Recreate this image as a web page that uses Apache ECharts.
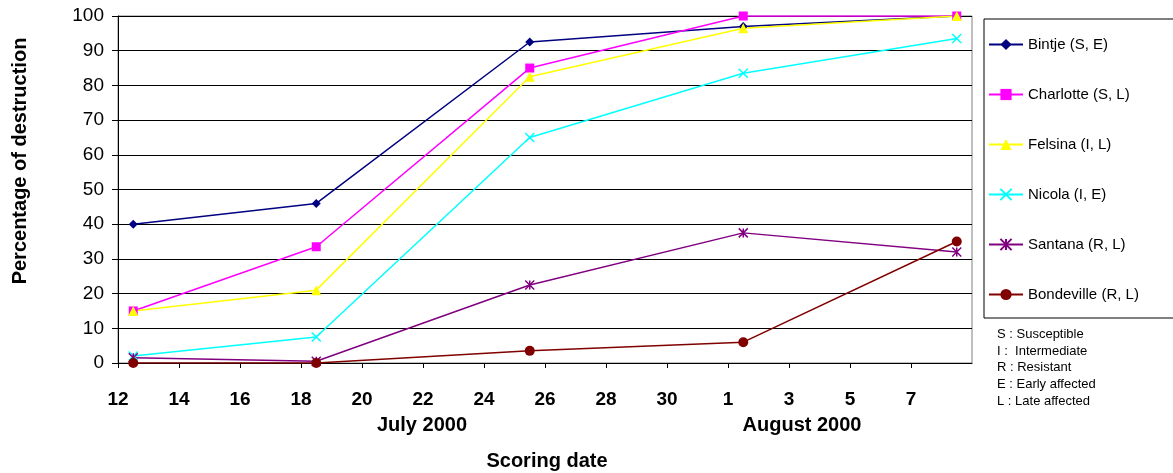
<!DOCTYPE html>
<html lang="en">

<head>
	<meta charset="UTF-8">
	<title>Percentage of destruction by scoring date</title>
	<script src="https://cdn.jsdelivr.net/npm/echarts@6/dist/echarts.min.js"></script>
	<style>
		html, body { margin: 0; padding: 0; background: #fff; }
	</style>
</head>

<body>
	<div id="main" style="width: 1173px;height:473px;"></div>

	<script>
		// scoring dates, counted in days from 1 July 2000 (32 = 1 August)
		var scoringDays = [12, 18, 25, 32, 39];

		var varieties = ['Bintje (S, E)', 'Charlotte (S, L)', 'Felsina (I, L)', 'Nicola (I, E)', 'Santana (R, L)', 'Bondeville (R, L)'];
		var bintje = [40, 46, 92.5, 97, 100];
		var charlotte = [15, 33.5, 85, 100, 100];
		var felsina = [15, 21, 82.5, 96.5, 100];
		var nicola = [2, 7.5, 65, 83.5, 93.5];
		var santana = [1.5, 0.5, 22.5, 37.5, 32];
		var bondeville = [0, 0, 3.5, 6, 35];

		var notes = ['S : Susceptible', 'I :  Intermediate', 'R : Resistant', 'E : Early affected', 'L : Late affected'];

		var FONT = '"Liberation Sans", Arial, sans-serif';

		// each date is drawn in the middle of its day
		function pairs(values) {
			return values.map(function (v, i) { return [scoringDays[i] + 0.5, v]; });
		}

		var styles = [
			{ color: '#000080', symbol: 'diamond', size: 9 },
			{ color: '#FF00FF', symbol: 'rect', size: 9 },
			{ color: '#FFFF00', symbol: 'triangle', size: 10 },
			{ color: '#00FFFF', symbol: 'path://M0,0L10,10M10,0L0,10', size: 9, stroke: true },
			{ color: '#800080', symbol: 'path://M0,0L10,10M10,0L0,10M5,0L5,10', size: 9, stroke: true },
			{ color: '#800000', symbol: 'circle', size: 10 }
		];
		var seriesValues = [bintje, charlotte, felsina, nicola, santana, bondeville];

		var chart = echarts.init(document.getElementById('main'));

		var option = {
			animation: false,
			backgroundColor: '#fff',
			textStyle: { fontFamily: FONT },
			grid: {
				left: 118, right: 201, top: 16, bottom: 110,
				show: true, borderColor: '#808080', borderWidth: 1, backgroundColor: '#fff'
			},
			xAxis: {
				type: 'value',
				min: 12, max: 40, interval: 2,
				axisLine: { lineStyle: { color: '#000', width: 1 } },
				axisTick: { show: true, length: 5, lineStyle: { color: '#000' } },
				splitLine: { show: false },
				axisLabel: {
					showMaxLabel: false,
					margin: 27,
					color: '#000',
					fontSize: 19,
					fontWeight: 'bold',
					fontFamily: FONT,
					formatter: function (v) { return v > 31 ? String(v - 31) : String(v); }
				}
			},
			yAxis: {
				type: 'value',
				min: 0, max: 100, interval: 10,
				axisLine: { show: true, lineStyle: { color: '#000', width: 1 } },
				axisTick: { show: true, length: 6, lineStyle: { color: '#000' } },
				splitLine: { show: true, lineStyle: { color: '#000', width: 1 } },
				axisLabel: { margin: 14, padding: [4, 0, 0, 0], color: '#000', fontSize: 19, fontFamily: FONT }
			},
			legend: {
				orient: 'vertical',
				left: 984, top: 19,
				padding: [18, 50, 16, 4],
				itemGap: 35,
				itemWidth: 34,
				itemHeight: 14,
				borderColor: '#000',
				borderWidth: 1,
				backgroundColor: '#fff',
				textStyle: { fontSize: 15, color: '#000', fontFamily: FONT },
				data: varieties
			},
			graphic: [
				{
					type: 'text', x: 20, y: 161, rotation: Math.PI / 2,
					style: { text: 'Percentage of destruction', font: 'bold 20px ' + FONT, fill: '#000', align: 'center', verticalAlign: 'middle' }
				},
				{
					type: 'text', x: 422, y: 425,
					style: { text: 'July 2000', font: 'bold 20px ' + FONT, fill: '#000', align: 'center', verticalAlign: 'middle' }
				},
				{
					type: 'text', x: 802, y: 425,
					style: { text: 'August 2000', font: 'bold 20px ' + FONT, fill: '#000', align: 'center', verticalAlign: 'middle' }
				},
				{
					type: 'text', x: 547, y: 461,
					style: { text: 'Scoring date', font: 'bold 20px ' + FONT, fill: '#000', align: 'center', verticalAlign: 'middle' }
				},
				{
					type: 'text', x: 997, y: 326,
					style: { text: notes.join('\n'), font: '13px ' + FONT, fill: '#000', lineHeight: 16.7 }
				}
			],
			series: seriesValues.map(function (vals, i) {
				var s = styles[i];
				return {
					name: varieties[i],
					type: 'line',
					data: pairs(vals),
					symbol: s.symbol,
					symbolSize: s.size,
					showAllSymbol: true,
					lineStyle: { color: s.color, width: 1.5 },
					itemStyle: s.stroke
						? { color: s.color, borderColor: s.color, borderWidth: 1.5 }
						: { color: s.color, borderWidth: 0 },
					emphasis: { disabled: true }
				};
			})
		};

		chart.setOption(option);
	</script>
</body>

</html>
